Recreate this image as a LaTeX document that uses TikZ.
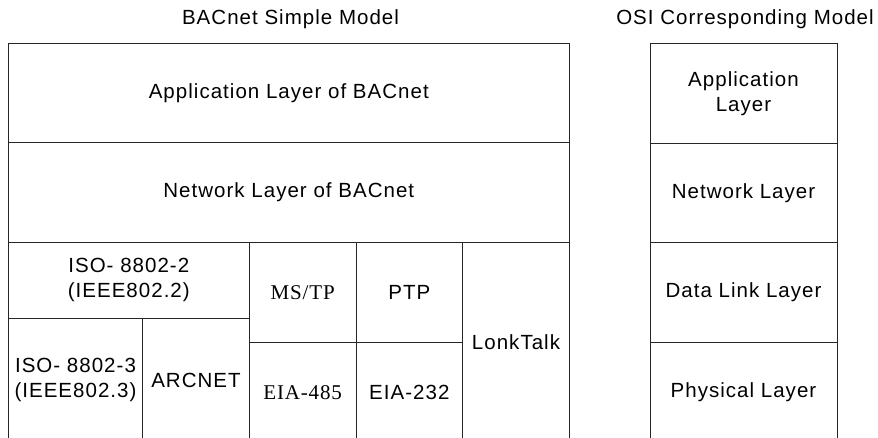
\documentclass[tikz,border=0pt]{standalone}
\usepackage{fontspec}
\setmainfont{Liberation Sans}[LetterSpace=5]
\newfontfamily\cellserif{Liberation Serif}[LetterSpace=4]
\usepackage{tikz}

\begin{document}
\begin{tikzpicture}[x=1pt,y=-1pt]
  \tikzset{layercell/.style={draw=black!85,line width=1pt,rectangle,inner sep=0pt,outer sep=0pt,align=center,font=\fontsize{20.5}{25}\selectfont}}
  \tikzset{modeltitle/.style={anchor=base,inner sep=0pt,font=\fontsize{20.5}{25}\selectfont}}
  \useasboundingbox (0,0) rectangle (878,438);
  \clip (0,0) rectangle (878,438);
  \node[modeltitle] (tbac) at (290.5,25) {BACnet Simple Model};
  \node[modeltitle] (tosi) at (745,25) {OSI Corresponding Model};
  % BACnet stack
  \node[layercell,minimum width=561pt,minimum height=99pt] (app) at (288.8,93.2) {Application Layer of BACnet};
  \node[layercell,minimum width=561pt,minimum height=100pt] (net) at (288.8,192.7) {Network Layer of BACnet};
  \node[layercell,minimum width=241pt,minimum height=75.3pt] (iso2) at (128.8,280.35) {ISO- 8802-2\\(IEEE802.2)};
  \node[layercell,minimum width=134.4pt,minimum height=124pt] (iso3) at (75.5,380) {ISO- 8802-3\\(IEEE802.3)};
  \node[layercell,minimum width=106.6pt,minimum height=124pt] (arcnet) at (196,380) {ARCNET};
  \node[layercell,minimum width=106.7pt,minimum height=100pt] (mstp) at (302.65,292.7) {\fontsize{21}{25}\cellserif MS/TP};
  \node[layercell,minimum width=106.7pt,minimum height=100pt] (ptp) at (409.35,292.7) {PTP};
  \node[layercell,minimum width=106.7pt,minimum height=99.3pt] (eia485) at (302.65,392.35) {\fontsize{21}{25}\cellserif EIA-485};
  \node[layercell,minimum width=106.7pt,minimum height=99.3pt] (eia232) at (409.35,392.35) {EIA-232};
  \node[layercell,minimum width=106.6pt,minimum height=199.3pt] (lonk) at (516,342.35) {LonkTalk};
  % OSI stack
  \node[layercell,minimum width=187pt,minimum height=99.6pt] (osiapp) at (743.5,93.5) {Application\\Layer};
  \node[layercell,minimum width=187pt,minimum height=99.4pt] (osinet) at (743.5,193) {Network Layer};
  \node[layercell,minimum width=187pt,minimum height=99.6pt] (osidl) at (743.5,292.5) {Data Link Layer};
  \node[layercell,minimum width=187pt,minimum height=99.7pt] (osiphy) at (743.5,392.15) {Physical Layer};
\end{tikzpicture}
\end{document}
